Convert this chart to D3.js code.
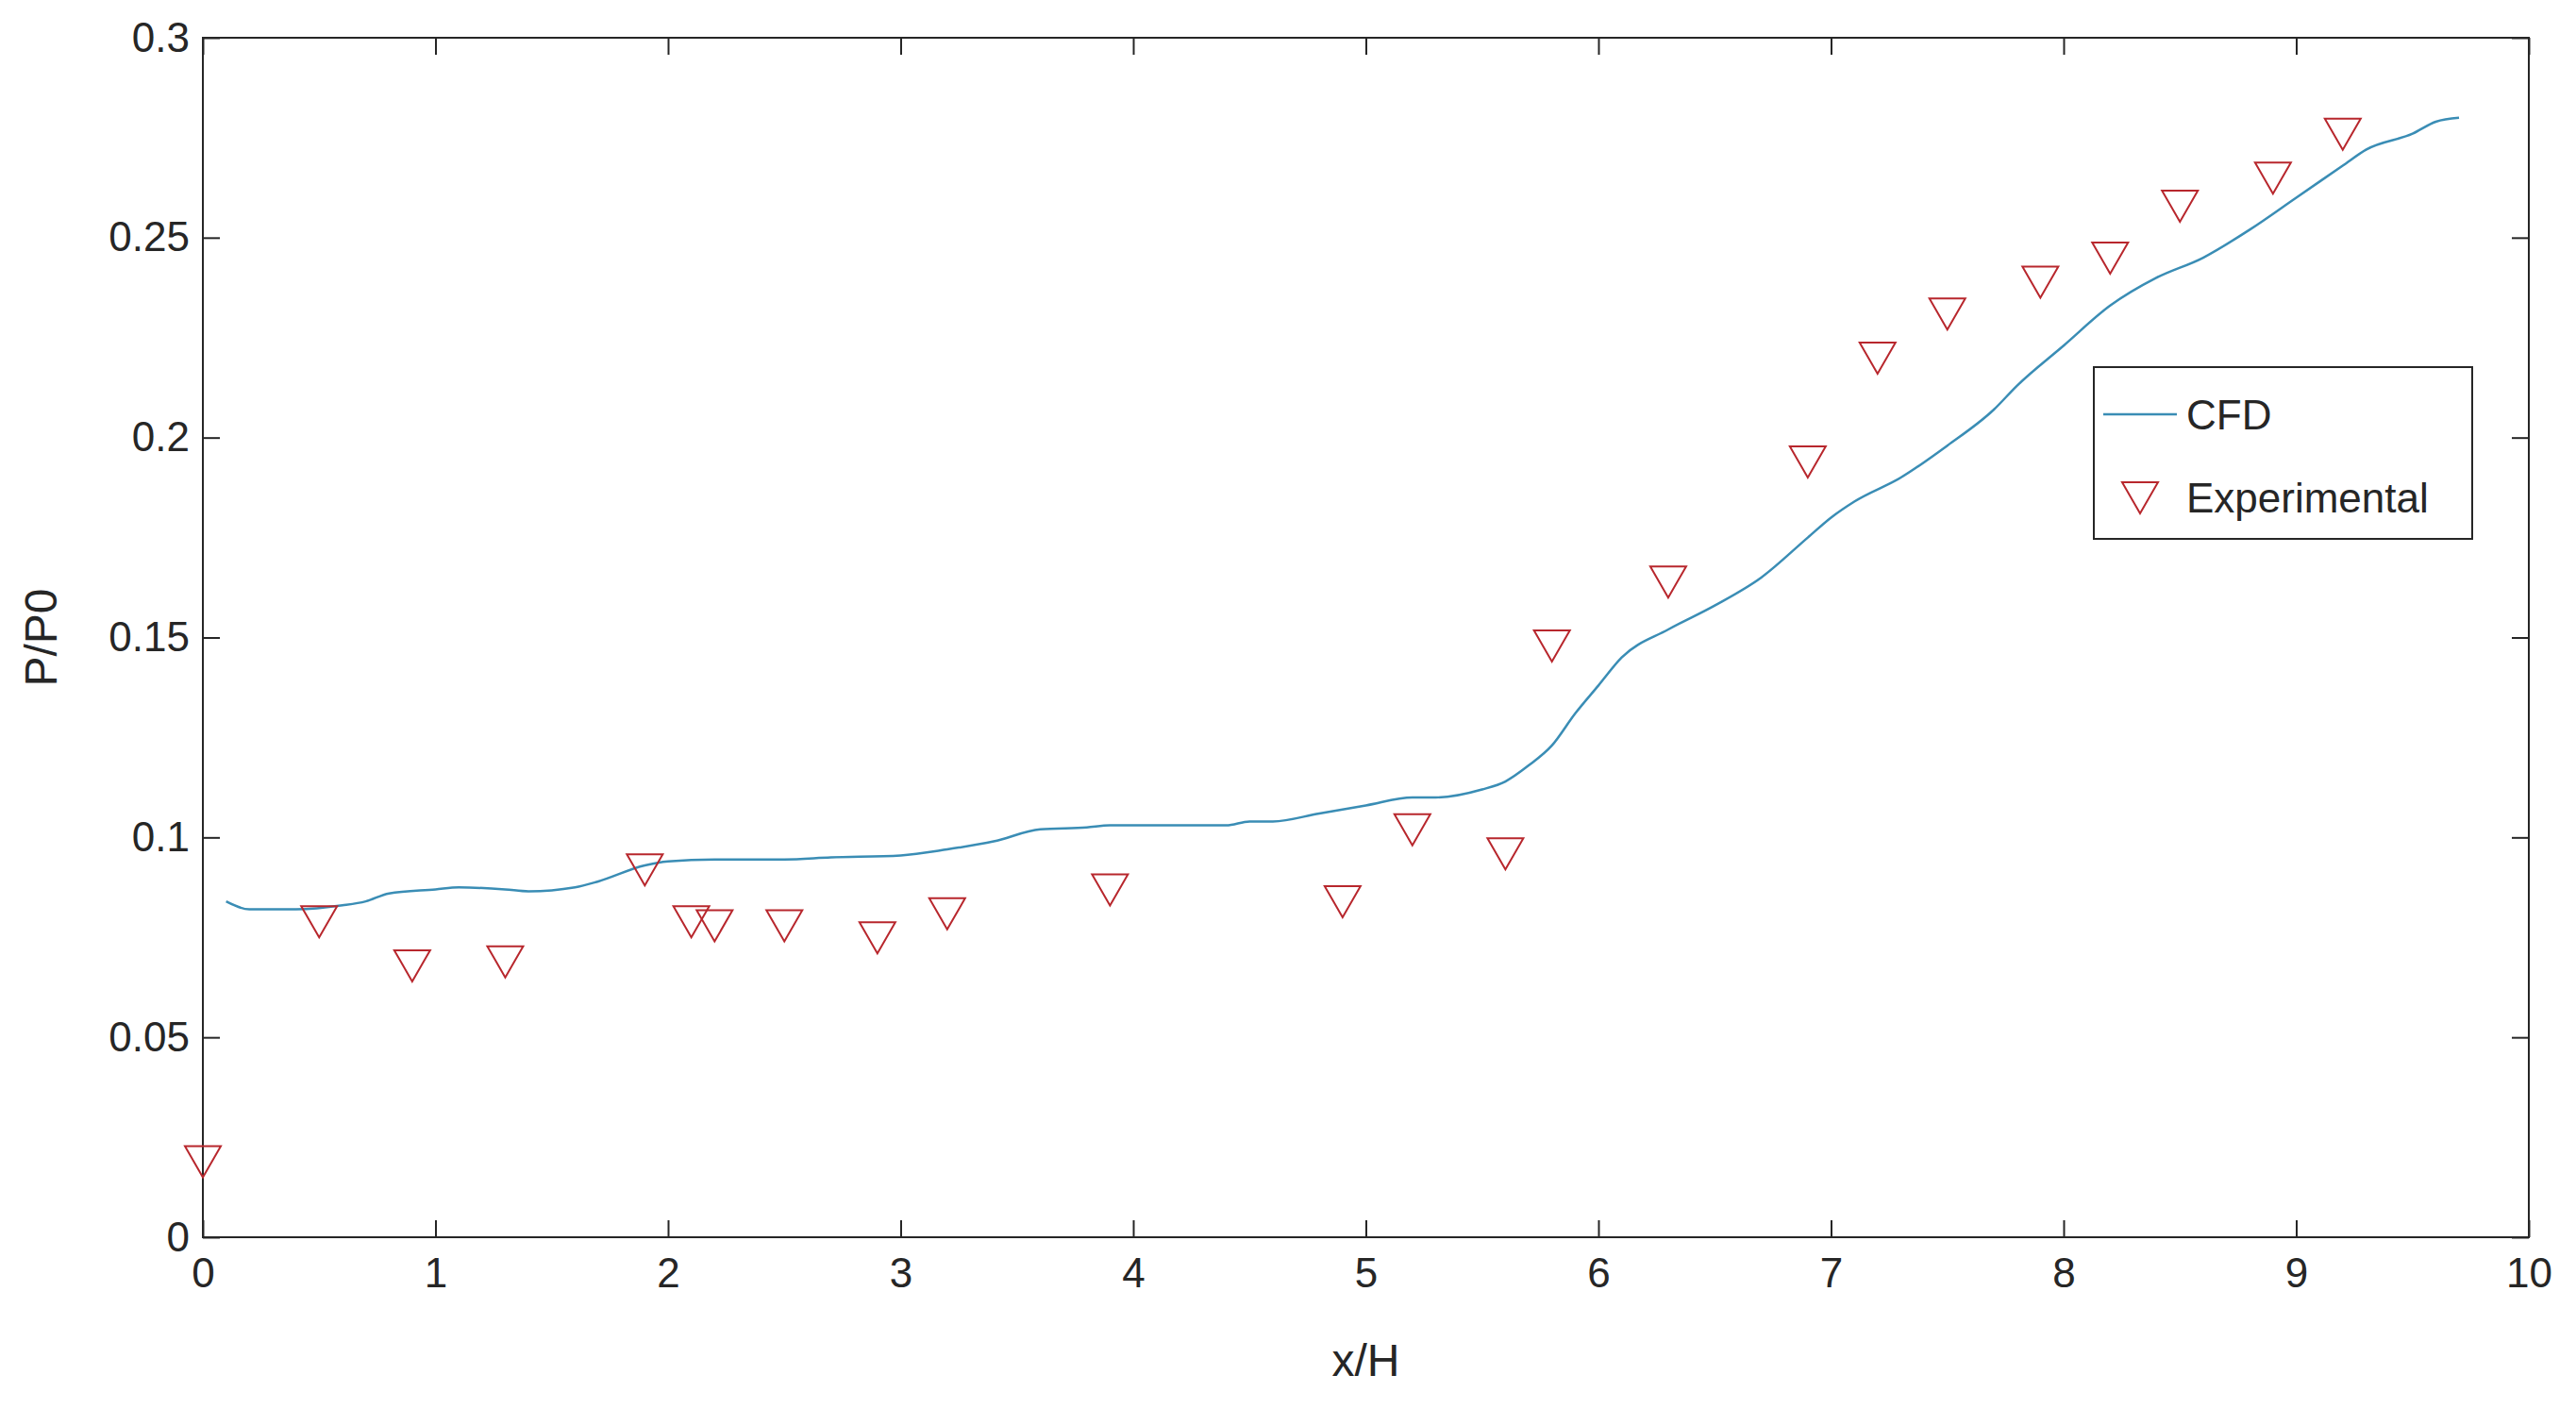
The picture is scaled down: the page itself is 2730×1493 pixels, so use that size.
<!DOCTYPE html>
<html>
<head>
<meta charset="utf-8">
<script src="https://cdn.jsdelivr.net/npm/d3@7"></script>
<style>
  body { margin: 0; background: #fff; }
  text { font-family: "Liberation Sans", Arial, sans-serif; fill: #262626; }
</style>
</head>
<body>
<svg id="chart" width="2730" height="1493"></svg>
<script>
var cfdX = [0.1,0.2,0.4,0.6,0.7,0.8,1.0,1.1,1.3,1.4,1.6,1.7,1.9,2.0,2.2,2.5,2.7,3.0,3.2,3.4,3.6,3.8,3.9,4.4,4.5,4.6,4.8,5.0,5.2,5.3,5.5,5.6,5.7,5.8,5.9,6.0,6.1,6.3,6.5,6.7,6.9,7.0,7.1,7.3,7.5,7.7,7.8,8.0,8.2,8.4,8.6,8.8,9.0,9.2,9.3,9.5,9.6,9.7];
var cfdY = [0.084,0.082,0.082,0.083,0.084,0.086,0.087,0.0875,0.087,0.0865,0.0875,0.089,0.093,0.094,0.0945,0.0945,0.095,0.0955,0.097,0.099,0.102,0.1025,0.103,0.103,0.104,0.104,0.106,0.108,0.110,0.110,0.112,0.114,0.118,0.123,0.131,0.138,0.145,0.152,0.158,0.165,0.175,0.180,0.184,0.190,0.198,0.207,0.213,0.223,0.233,0.240,0.245,0.252,0.260,0.268,0.272,0.276,0.279,0.280];
var expX = [0,0.5,0.9,1.3,1.9,2.1,2.2,2.5,2.9,3.2,3.9,4.9,5.2,5.6,5.8,6.3,6.9,7.2,7.5,7.9,8.2,8.5,8.9,9.2];
var expY = [0.019,0.079,0.068,0.069,0.092,0.079,0.078,0.078,0.075,0.081,0.087,0.084,0.102,0.096,0.148,0.164,0.194,0.220,0.231,0.239,0.245,0.258,0.265,0.276];
var xTicks = [0,1,2,3,4,5,6,7,8,9,10];
var yTicks = [0,0.05,0.1,0.15,0.2,0.25,0.3];

var L = 215, R = 2680, T = 40, B = 1311;
var svg = d3.select('#chart');
var x = d3.scaleLinear().domain([0, 10]).range([L, R]);
var y = d3.scaleLinear().domain([0, 0.3]).range([B, T]);
var tk = 18;

function styleAxis(g) {
  g.select('.domain').remove();
  g.selectAll('line').attr('stroke', '#262626').attr('stroke-width', 2);
  g.selectAll('text').style('font-size', '44px').style('fill', '#262626');
}

svg.append('g').attr('transform', 'translate(0,' + B + ')')
  .call(d3.axisBottom(x).tickValues(xTicks).tickFormat(d3.format('d')).tickSizeInner(-tk).tickPadding(22))
  .call(styleAxis);
svg.append('g').attr('transform', 'translate(0,' + T + ')')
  .call(d3.axisTop(x).tickValues(xTicks).tickFormat('').tickSizeInner(-tk))
  .call(styleAxis);
svg.append('g').attr('transform', 'translate(' + L + ',0)')
  .call(d3.axisLeft(y).tickValues(yTicks).tickFormat(function(d) { return d === 0 ? '0' : String(+d.toFixed(2)); }).tickSizeInner(-tk).tickPadding(14))
  .call(styleAxis);
svg.append('g').attr('transform', 'translate(' + R + ',0)')
  .call(d3.axisRight(y).tickValues(yTicks).tickFormat('').tickSizeInner(-tk))
  .call(styleAxis);

svg.append('rect').attr('x', L).attr('y', T).attr('width', R - L).attr('height', B - T)
  .attr('fill', 'none').attr('stroke', '#262626').attr('stroke-width', 2);

svg.append('text').attr('x', (L + R) / 2).attr('y', 1458).attr('text-anchor', 'middle')
  .style('font-size', '48px').text('x/H');
svg.append('text').attr('transform', 'translate(60,' + (T + B) / 2 + ') rotate(-90)')
  .attr('text-anchor', 'middle').style('font-size', '48px').text('P/P0');

var line = d3.line().curve(d3.curveMonotoneX).x(function(d) { return x(d[0]); }).y(function(d) { return y(d[1]); });
var lineCol = '#3a8db5', expCol = '#b8272d';
svg.append('path').datum(d3.zip(cfdX, cfdY)).attr('d', line)
  .attr('fill', 'none').attr('stroke', lineCol).attr('stroke-width', 2.5);

var tri = 'M-19,-16 L19,-16 L0,17 Z';
svg.selectAll('.exp').data(d3.zip(expX, expY)).enter().append('path')
  .attr('class', 'exp').attr('d', tri)
  .attr('transform', function(d) { return 'translate(' + x(d[0]) + ',' + y(d[1]) + ')'; })
  .attr('fill', 'none').attr('stroke', expCol).attr('stroke-width', 2);

// legend
var lg = svg.append('g').attr('transform', 'translate(2219,389)');
lg.append('rect').attr('width', 401).attr('height', 182).attr('fill', '#fff')
  .attr('stroke', '#262626').attr('stroke-width', 2);
lg.append('line').attr('x1', 10).attr('x2', 88).attr('y1', 50).attr('y2', 50)
  .attr('stroke', lineCol).attr('stroke-width', 2.5);
lg.append('text').attr('x', 98).attr('y', 66).style('font-size', '44px').text('CFD');
lg.append('path').attr('d', tri).attr('transform', 'translate(49,138)')
  .attr('fill', 'none').attr('stroke', expCol).attr('stroke-width', 2);
lg.append('text').attr('x', 98).attr('y', 154).style('font-size', '44px').text('Experimental');
</script>
</body>
</html>
